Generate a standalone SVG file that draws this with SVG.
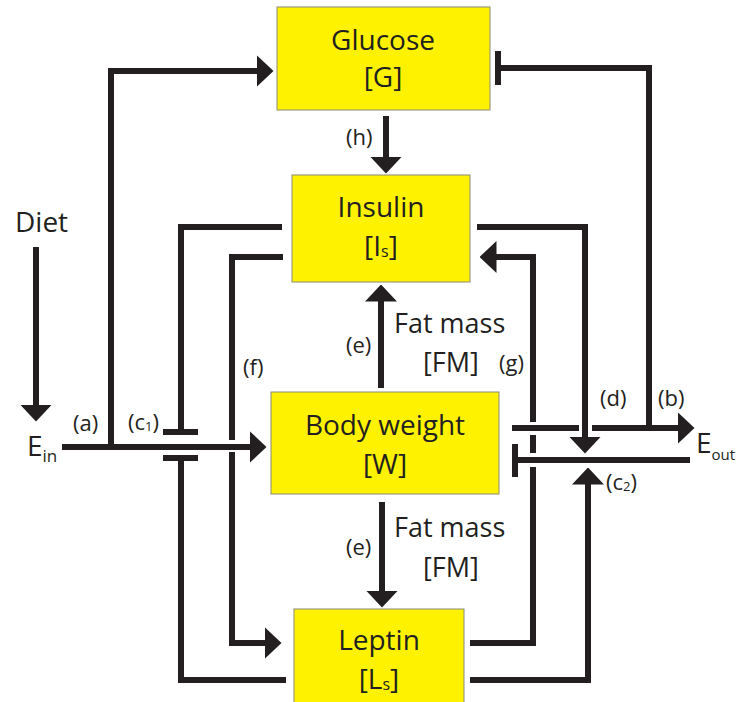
<svg xmlns="http://www.w3.org/2000/svg" width="736" height="702" viewBox="0 0 736 702">
<defs>
<marker id="ah" markerUnits="userSpaceOnUse" markerWidth="17" markerHeight="32" viewBox="0 0 17 32" refX="0.5" refY="16" orient="auto">
<path d="M0,0 L17,16 L0,32 Z" fill="#231f20"/>
</marker>
</defs>
<style>
.box{fill:#fff200;stroke:#8a8a7a;stroke-width:1}
.t{font-family:"Open Sans","Liberation Sans",sans-serif;font-size:28px;fill:#231f20;text-anchor:middle}
.l{font-family:"Open Sans","Liberation Sans",sans-serif;font-size:22px;fill:#231f20}
.fm{font-family:"Open Sans","Liberation Sans",sans-serif;font-size:27px;fill:#231f20}
.c{fill:none;stroke:#231f20;stroke-width:6;stroke-linejoin:miter;stroke-linecap:butt}
.a{marker-end:url(#ah)}
</style>
<rect width="736" height="702" fill="#ffffff"/>

<g id="connectors">
<!-- Diet -->
<path class="c a" d="M36,247 V405"/>
<!-- Ein to body weight -->
<path class="c a" d="M62,447 H250"/>
<!-- (a) to glucose -->
<path class="c a" d="M111,450 V71 H257"/>
<!-- glucose inhibition from (b) -->
<path class="c" d="M649,431 V68 H498"/>
<path class="c" d="M498,51 V85"/>
<!-- (h) -->
<path class="c a" d="M386,116 V157"/>
<!-- (c1) insulin -->
<path class="c" d="M282,227 H181 V432"/>
<path class="c" d="M163,432 H198"/>
<!-- (c1) leptin -->
<path class="c" d="M286,680 H181 V458"/>
<path class="c" d="M163,458 H198"/>
<!-- (f) -->
<path class="c" d="M283,257 H232 V440"/>
<path class="c a" d="M232,452 V643 H265"/>
<!-- (e) up/down -->
<path class="c a" d="M381,388 V301"/>
<path class="c a" d="M382,502 V591"/>
<!-- (g) -->
<path class="c" d="M470,643 H533 V467"/>
<path class="c" d="M533,453 V435"/>
<path class="c a" d="M533,422 V257 H496"/>
<!-- body weight to Eout -->
<path class="c" d="M512,428 H579"/>
<path class="c a" d="M592,428 H678"/>
<!-- (d) -->
<path class="c a" d="M477,227 H585 V437"/>
<!-- Eout inhibition of body weight -->
<path class="c" d="M690,460 H518"/>
<path class="c" d="M515,444 V477"/>
<!-- (c2) -->
<path class="c a" d="M470,680 H588 V484"/>
</g>

<g id="glucose">
<rect class="box" x="277" y="7" width="213" height="103"/>
<text class="t" x="383" y="50">Glucose</text>
<text class="t" x="383" y="87">[G]</text>
</g>
<g id="insulin">
<rect class="box" x="292" y="175" width="178" height="107"/>
<text class="t" x="381" y="217">Insulin</text>
<text class="t" x="381" y="256">[I<tspan font-size="16" dy="1">s</tspan><tspan dy="-1">]</tspan></text>
</g>
<g id="bodyweight">
<rect class="box" x="271" y="392" width="228" height="102"/>
<text class="t" x="385" y="435">Body weight</text>
<text class="t" x="385" y="474">[W]</text>
</g>
<g id="leptin">
<rect class="box" x="294" y="609" width="170" height="100"/>
<text class="t" x="379" y="650">Leptin</text>
<text class="t" x="379" y="689">[L<tspan font-size="16" dy="1">s</tspan><tspan dy="-1">]</tspan></text>
</g>

<g id="labels">
<text class="t" x="15" y="232" style="text-anchor:start">Diet</text>
<text class="t" x="27" y="456" style="text-anchor:start">E<tspan font-size="17" dy="6">in</tspan></text>
<text class="t" x="696" y="453" style="text-anchor:start">E<tspan font-size="15" dy="7">out</tspan></text>
<text class="l" x="73" y="431">(a)</text>
<text class="l" x="128" y="430">(c<tspan font-size="13" dy="1">1</tspan><tspan dy="-1">)</tspan></text>
<text class="l" x="243" y="375">(f)</text>
<text class="l" x="346" y="145">(h)</text>
<text class="l" x="346" y="353">(e)</text>
<text class="l" x="346" y="555">(e)</text>
<text class="l" x="499" y="371">(g)</text>
<text class="l" x="600" y="406">(d)</text>
<text class="l" x="658" y="406">(b)</text>
<text class="l" x="606" y="490">(c<tspan font-size="13" dy="1">2</tspan><tspan dy="-1">)</tspan></text>
<text class="fm" x="394" y="333">Fat mass</text>
<text class="fm" x="423" y="372">[FM]</text>
<text class="fm" x="394" y="537">Fat mass</text>
<text class="fm" x="423" y="577">[FM]</text>
</g>
</svg>
